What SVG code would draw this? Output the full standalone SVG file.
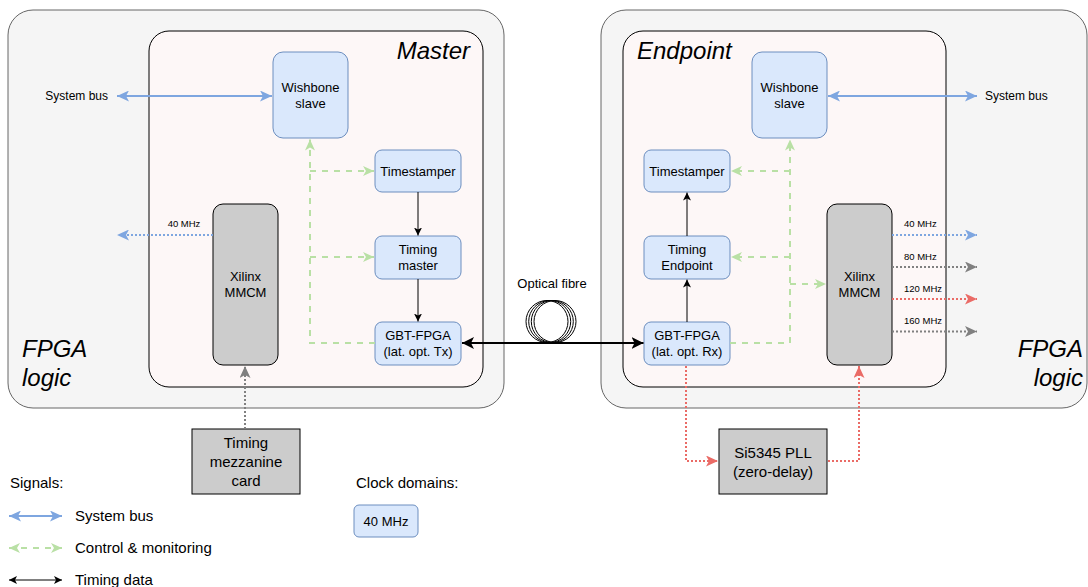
<svg xmlns="http://www.w3.org/2000/svg" width="1088" height="587" viewBox="0 0 1088 587">
<style>
text{font-family:"Liberation Sans",Arial,sans-serif;fill:#000}
.outer{fill:#F5F5F5;stroke:#666666;stroke-width:1}
.inner{fill:#FDF7F7;stroke:#000;stroke-width:1}
.blue{fill:#DAE8FC;stroke:#6C8EBF;stroke-width:1}
.gray{fill:#CCCCCC;stroke:#000;stroke-width:1}
.t13{font-size:13px;text-anchor:middle}
.t15c{font-size:15px;text-anchor:middle}
.t15{font-size:15px}
.t12{font-size:12px}
.big{font-size:24px;font-style:italic}
.lab{font-size:9.5px}
.bus{stroke:#7EA6E0;stroke-width:2;fill:none}
.ctl{stroke:#B9E0A5;stroke-width:2;fill:none;stroke-dasharray:6 6}
.tim{stroke:#000;stroke-width:1;fill:none}
.fib{stroke:#000;stroke-width:2;fill:none}
.dotB{stroke:#7EA6E0;stroke-width:2;fill:none;stroke-dasharray:2 2}
.dotG{stroke:#808080;stroke-width:2;fill:none;stroke-dasharray:2 2}
.dotR{stroke:#EA6B66;stroke-width:2;fill:none;stroke-dasharray:2 2}
.coil{stroke:#000;stroke-width:1;fill:none}
</style>
<defs>
<marker id="mBus" viewBox="0 0 12 11" refX="12" refY="5.5" markerWidth="12" markerHeight="11" markerUnits="userSpaceOnUse" orient="auto-start-reverse"><path d="M0,0 L12,5.5 L0,11 L3,5.5 Z" fill="#7EA6E0"/></marker>
<marker id="mCtl" viewBox="0 0 11 10" refX="11" refY="5" markerWidth="11" markerHeight="10" markerUnits="userSpaceOnUse" orient="auto-start-reverse"><path d="M0,0 L11,5 L0,10 L3,5 Z" fill="#B9E0A5"/></marker>
<marker id="mTim" viewBox="0 0 8 8" refX="8" refY="4" markerWidth="8" markerHeight="8" markerUnits="userSpaceOnUse" orient="auto-start-reverse"><path d="M0,0 L8,4 L0,8 L2,4 Z" fill="#000"/></marker>
<marker id="mFib" viewBox="0 0 12 12" refX="12" refY="6" markerWidth="12" markerHeight="12" markerUnits="userSpaceOnUse" orient="auto-start-reverse"><path d="M0,0 L12,6 L0,12 L3,6 Z" fill="#000"/></marker>
<marker id="mDB" viewBox="0 0 12 11" refX="12" refY="5.5" markerWidth="12" markerHeight="11" markerUnits="userSpaceOnUse" orient="auto"><path d="M0,0 L12,5.5 L0,11 L3,5.5 Z" fill="#7EA6E0"/></marker>
<marker id="mDG" viewBox="0 0 12 11" refX="12" refY="5.5" markerWidth="12" markerHeight="11" markerUnits="userSpaceOnUse" orient="auto"><path d="M0,0 L12,5.5 L0,11 L3,5.5 Z" fill="#808080"/></marker>
<marker id="mDR" viewBox="0 0 12 11" refX="12" refY="5.5" markerWidth="12" markerHeight="11" markerUnits="userSpaceOnUse" orient="auto"><path d="M0,0 L12,5.5 L0,11 L3,5.5 Z" fill="#EA6B66"/></marker>
</defs>

<g id="fpga-left">
<rect class="outer" x="8" y="10" width="496" height="398" rx="25"/>
<text class="big" x="22" y="357">FPGA</text>
<text class="big" x="22" y="386">logic</text>
</g>
<g id="fpga-right">
<rect class="outer" x="601" y="10" width="486" height="398" rx="25"/>
<text class="big" x="1083" y="357" text-anchor="end">FPGA</text>
<text class="big" x="1083" y="386" text-anchor="end">logic</text>
</g>
<g id="master">
<rect class="inner" x="149" y="31" width="334" height="356" rx="20"/>
<text class="big" x="470" y="59" text-anchor="end">Master</text>
</g>
<g id="endpoint">
<rect class="inner" x="623" y="31" width="323" height="356" rx="20"/>
<text class="big" x="637" y="59">Endpoint</text>
</g>

<g id="m-wishbone">
<rect class="blue" x="273" y="52" width="75" height="86" rx="10"/>
<text class="t13" x="310.5" y="92">Wishbone</text>
<text class="t13" x="310.5" y="108">slave</text>
</g>
<g id="m-timestamper">
<rect class="blue" x="375" y="150" width="86" height="42" rx="7"/>
<text class="t13" x="418" y="175.5">Timestamper</text>
</g>
<g id="m-timing">
<rect class="blue" x="375" y="236" width="86" height="43" rx="7"/>
<text class="t13" x="418" y="254">Timing</text>
<text class="t13" x="418" y="270">master</text>
</g>
<g id="m-gbt">
<rect class="blue" x="375" y="322" width="86" height="43" rx="7"/>
<text class="t13" x="418" y="339.5">GBT-FPGA</text>
<text class="t13" x="418" y="355.5">(lat. opt. Tx)</text>
</g>
<g id="m-mmcm">
<rect class="gray" x="213" y="204" width="65" height="161" rx="10"/>
<text class="t13" x="245.5" y="281">Xilinx</text>
<text class="t13" x="245.5" y="297">MMCM</text>
</g>
<g id="mezzanine">
<rect class="gray" x="192" y="429" width="108" height="65"/>
<text class="t15c" x="246" y="448">Timing</text>
<text class="t15c" x="246" y="467">mezzanine</text>
<text class="t15c" x="246" y="486">card</text>
</g>

<g id="e-wishbone">
<rect class="blue" x="752" y="52" width="75" height="86" rx="10"/>
<text class="t13" x="789.5" y="92">Wishbone</text>
<text class="t13" x="789.5" y="108">slave</text>
</g>
<g id="e-timestamper">
<rect class="blue" x="644" y="150" width="86" height="42" rx="7"/>
<text class="t13" x="687" y="175.5">Timestamper</text>
</g>
<g id="e-timing">
<rect class="blue" x="644" y="236" width="86" height="43" rx="7"/>
<text class="t13" x="687" y="254">Timing</text>
<text class="t13" x="687" y="270">Endpoint</text>
</g>
<g id="e-gbt">
<rect class="blue" x="644" y="322" width="86" height="43" rx="7"/>
<text class="t13" x="687" y="339.5">GBT-FPGA</text>
<text class="t13" x="687" y="355.5">(lat. opt. Rx)</text>
</g>
<g id="e-mmcm">
<rect class="gray" x="827" y="204" width="65" height="161" rx="10"/>
<text class="t13" x="859.5" y="281">Xilinx</text>
<text class="t13" x="859.5" y="297">MMCM</text>
</g>
<g id="si5345">
<rect class="gray" x="719" y="429" width="108" height="65"/>
<text class="t15c" x="773" y="458">Si5345 PLL</text>
<text class="t15c" x="773" y="477">(zero-delay)</text>
</g>

<g id="fibre">
<text x="552" y="288" font-size="13" text-anchor="middle">Optical fibre</text>
<ellipse class="coil" cx="547" cy="321.5" rx="21" ry="21"/>
<ellipse class="coil" cx="549.7" cy="321.5" rx="21" ry="21"/>
<ellipse class="coil" cx="552.3" cy="321.5" rx="21" ry="21"/>
<ellipse class="coil" cx="555" cy="321.5" rx="21" ry="21"/>
</g>

<g id="connectors">
<path class="bus" d="M117,96 H272" marker-start="url(#mBus)" marker-end="url(#mBus)"/>
<text class="t12" x="108" y="100" text-anchor="end">System bus</text>
<path class="bus" d="M828,96 H977" marker-start="url(#mBus)" marker-end="url(#mBus)"/>
<text class="t12" x="985" y="100">System bus</text>
<path class="ctl" d="M375,343 H310 V139.5" marker-end="url(#mCtl)"/>
<path class="ctl" d="M310,171 H374" marker-end="url(#mCtl)"/>
<path class="ctl" d="M310,257 H374" marker-end="url(#mCtl)"/>
<path class="ctl" d="M730,343 H790 V139.5" marker-end="url(#mCtl)"/>
<path class="ctl" d="M790,171 H731" marker-end="url(#mCtl)"/>
<path class="ctl" d="M790,257 H731" marker-end="url(#mCtl)"/>
<path class="ctl" d="M790,284 H826" marker-end="url(#mCtl)"/>
<path class="tim" d="M418,192 V235.5" marker-end="url(#mTim)"/>
<path class="tim" d="M418,279 V321.5" marker-end="url(#mTim)"/>
<path class="tim" d="M687,322 V279.5" marker-end="url(#mTim)"/>
<path class="tim" d="M687,236 V192.5" marker-end="url(#mTim)"/>
<path class="fib" d="M462,343 H643.5" marker-start="url(#mFib)" marker-end="url(#mFib)"/>
<path class="dotB" d="M213,235 H117" marker-end="url(#mDB)"/>
<text class="lab" x="184" y="227" text-anchor="middle">40 MHz</text>
<path class="dotG" d="M245,429 V366" marker-end="url(#mDG)"/>
<path class="dotB" d="M892,235 H977" marker-end="url(#mDB)"/>
<path class="dotG" d="M892,267 H977" marker-end="url(#mDG)"/>
<path class="dotR" d="M892,299 H977" marker-end="url(#mDR)"/>
<path class="dotG" d="M892,331.5 H977" marker-end="url(#mDG)"/>
<text class="lab" x="904" y="227">40 MHz</text>
<text class="lab" x="904" y="260">80 MHz</text>
<text class="lab" x="904" y="292">120 MHz</text>
<text class="lab" x="904" y="324">160 MHz</text>
<path class="dotR" d="M686,366 V461 H718" marker-end="url(#mDR)"/>
<path class="dotR" d="M828,461 H859 V366" marker-end="url(#mDR)"/>
</g>

<g id="legend">
<text class="t15" x="10" y="488">Signals:</text>
<path class="bus" d="M9,516 H62" marker-start="url(#mBus)" marker-end="url(#mBus)"/>
<text class="t15" x="75" y="521">System bus</text>
<path class="ctl" d="M9,548 H62" marker-start="url(#mCtl)" marker-end="url(#mCtl)"/>
<text class="t15" x="75" y="553">Control &amp; monitoring</text>
<path class="tim" d="M9,580 H62" marker-start="url(#mTim)" marker-end="url(#mTim)"/>
<text class="t15" x="75" y="585">Timing data</text>
<text class="t15" x="356" y="488">Clock domains:</text>
<g id="legend-40mhz">
<rect class="blue" x="354" y="505" width="64" height="32" rx="5"/>
<text class="t13" x="386" y="526">40 MHz</text>
</g>
</g>
</svg>
